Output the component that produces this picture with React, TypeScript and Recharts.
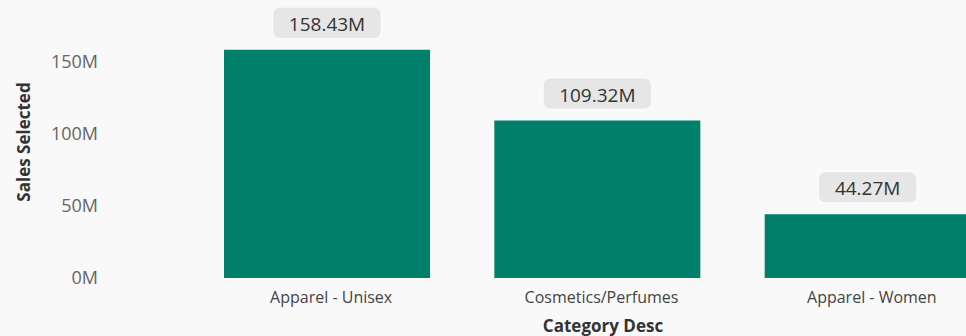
import { BarChart, Bar, XAxis, YAxis, LabelList } from 'recharts';

const categories = ['Apparel - Unisex', 'Cosmetics/Perfumes', 'Apparel - Women'];
const sales = [158.43e6, 109.32e6, 44.27e6];
const salesLabels = ['158.43M', '109.32M', '44.27M'];
const yTicks = [0, 50e6, 100e6, 150e6];

const data = categories.map((name, i) => ({ name, sales: sales[i], label: salesLabels[i] }));

const FONT = '"Open Sans", "Noto Sans", sans-serif';

// grey pill above each bar, like the Power BI data labels
function ValueBox(props: any) {
  const { x, y, width, value } = props;
  const cx = x + width / 2;
  const w = String(value).length * 10 + 37;
  const h = 30;
  const top = y - 12 - h;
  return (
    <g>
      <rect x={cx - w / 2} y={top} width={w} height={h} rx={6} fill="#e6e6e6" />
      <text x={cx} y={top + 23} textAnchor="middle" fontSize={19} fill="#333" fontFamily={FONT}>
        {value}
      </text>
    </g>
  );
}

export default function App() {
  return (
    <div style={{ position: 'fixed', left: 0, top: 0, width: 966, height: 336, overflow: 'hidden', background: '#f9f9f9' }}>
      <BarChart
        width={1003}
        height={336}
        data={data}
        margin={{ top: 26, right: 0, bottom: 28, left: 0 }}
        barCategoryGap={32}
      >
        <XAxis
          dataKey="name"
          axisLine={false}
          tickLine={false}
          tickSize={0}
          tickMargin={14}
          tick={{ fontSize: 16, fill: '#444', fontFamily: FONT, dx: 4 }}
          label={{
            content: () => (
              <text x={603} y={332} textAnchor="middle" fontSize={17} fontWeight="bold" fill="#333" fontFamily={FONT}>
                Category Desc
              </text>
            ),
          }}
        />
        <YAxis
          width={192}
          domain={[0, 175e6]}
          ticks={yTicks}
          axisLine={false}
          tickLine={false}
          tickSize={0}
          tickMargin={94}
          tickFormatter={(v: number) => `${v / 1e6}M`}
          tick={{ fontSize: 18, fill: '#666', fontFamily: FONT }}
          label={{
            content: () => (
              <text
                x={30}
                y={142}
                transform="rotate(-90 30 142)"
                textAnchor="middle"
                fontSize={17}
                fontWeight="bold"
                fill="#333"
                fontFamily={FONT}
              >
                Sales Selected
              </text>
            ),
          }}
        />
        <Bar dataKey="sales" fill="#00806a" isAnimationActive={false}>
          <LabelList dataKey="label" content={<ValueBox />} />
        </Bar>
      </BarChart>
    </div>
  );
}
